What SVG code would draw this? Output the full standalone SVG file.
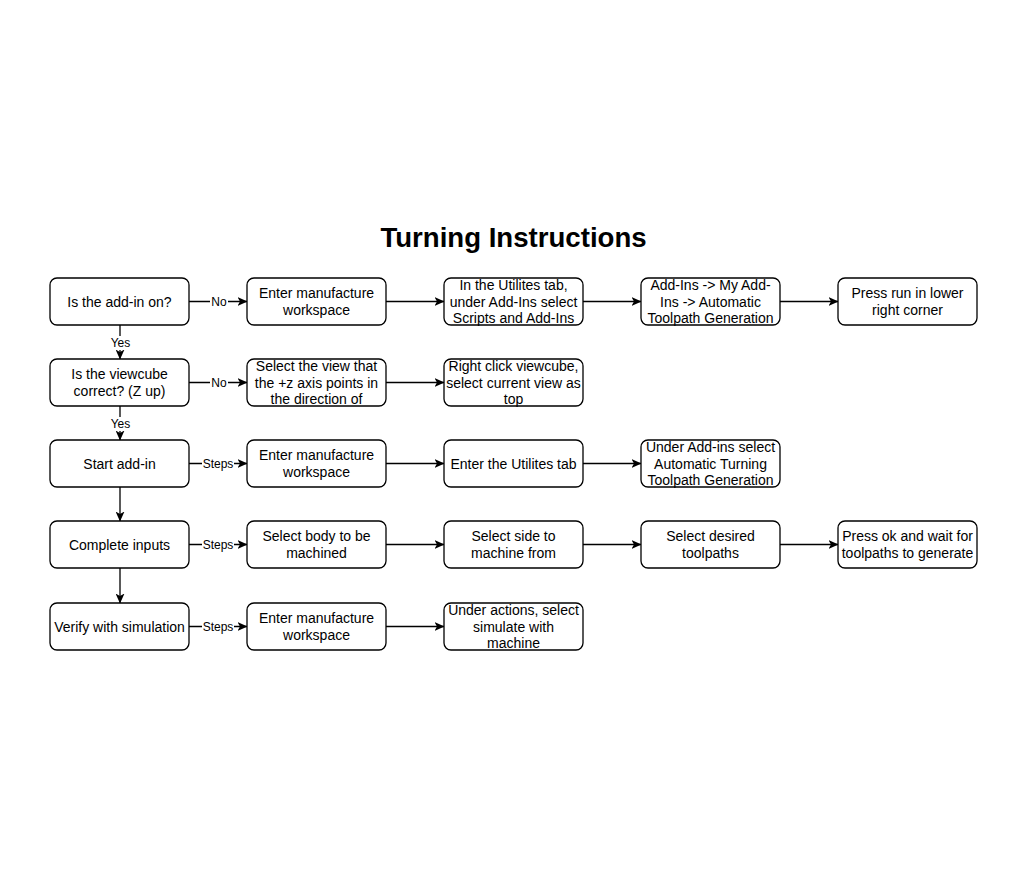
<svg xmlns="http://www.w3.org/2000/svg" width="1024" height="869" viewBox="0 0 1024 869">
<style>
.box{fill:#fff;stroke:#000;stroke-width:1.3}
.t{font-family:"Liberation Sans",Arial,sans-serif;font-size:14px;fill:#000;text-anchor:middle}
.lbl{font-family:"Liberation Sans",Arial,sans-serif;font-size:12px;fill:#000;text-anchor:middle}
.lb{fill:#fff}
.e{stroke:#000;stroke-width:1.3;fill:none;marker-end:url(#arr)}
.title{font-family:"Liberation Sans",Arial,sans-serif;font-size:27.6px;font-weight:bold;fill:#000;text-anchor:middle}
</style>
<defs>
<marker id="arr" viewBox="0 0 10 9" refX="9.5" refY="4.5" markerWidth="10" markerHeight="9" markerUnits="userSpaceOnUse" orient="auto">
<path d="M0,0 L10,4.5 L0,9 L2.5,4.5 Z" fill="#000"/>
</marker>
</defs>
<rect width="1024" height="869" fill="#fff"/>
<text class="title" x="513.5" y="247">Turning Instructions</text>

<g id="connectors">
<line class="e" x1="189" y1="301.5" x2="247" y2="301.5"/>
<line class="e" x1="386" y1="301.5" x2="444" y2="301.5"/>
<line class="e" x1="583" y1="301.5" x2="641" y2="301.5"/>
<line class="e" x1="780" y1="301.5" x2="838" y2="301.5"/>
<line class="e" x1="120" y1="325" x2="120" y2="359"/>
<line class="e" x1="189" y1="382.5" x2="247" y2="382.5"/>
<line class="e" x1="386" y1="382.5" x2="444" y2="382.5"/>
<line class="e" x1="120" y1="406" x2="120" y2="440"/>
<line class="e" x1="189" y1="463.5" x2="247" y2="463.5"/>
<line class="e" x1="386" y1="463.5" x2="444" y2="463.5"/>
<line class="e" x1="583" y1="463.5" x2="641" y2="463.5"/>
<line class="e" x1="120" y1="487" x2="120" y2="521"/>
<line class="e" x1="189" y1="544.5" x2="247" y2="544.5"/>
<line class="e" x1="386" y1="544.5" x2="444" y2="544.5"/>
<line class="e" x1="583" y1="544.5" x2="641" y2="544.5"/>
<line class="e" x1="780" y1="544.5" x2="838" y2="544.5"/>
<line class="e" x1="120" y1="568" x2="120" y2="603"/>
<line class="e" x1="189" y1="626.5" x2="247" y2="626.5"/>
<line class="e" x1="386" y1="626.5" x2="444" y2="626.5"/>
<rect class="lb" x="210" y="295" width="18" height="14"/>
<text class="lbl" x="219" y="306">No</text>
<rect class="lb" x="210" y="376" width="18" height="14"/>
<text class="lbl" x="219" y="387">No</text>
<rect class="lb" x="109" y="336" width="22" height="14"/>
<text class="lbl" x="120.5" y="347">Yes</text>
<rect class="lb" x="109" y="417" width="22" height="14"/>
<text class="lbl" x="120.5" y="428">Yes</text>
<rect class="lb" x="202" y="457" width="32" height="14"/>
<text class="lbl" x="218" y="468">Steps</text>
<rect class="lb" x="202" y="538" width="32" height="14"/>
<text class="lbl" x="218" y="549">Steps</text>
<rect class="lb" x="202" y="620" width="32" height="14"/>
<text class="lbl" x="218" y="631">Steps</text>
</g>

<g id="n1"><rect class="box" x="50" y="278" width="139" height="47" rx="7"/><text class="t" x="119.5" y="306.5">Is the add-in on?</text></g>
<g id="n2"><rect class="box" x="247" y="278" width="139" height="47" rx="7"/><text class="t" x="316.5" y="298">Enter manufacture</text><text class="t" x="316.5" y="315">workspace</text></g>
<g id="n3"><rect class="box" x="444" y="278" width="139" height="47" rx="7"/><text class="t" x="513.5" y="290">In the Utilites tab,</text><text class="t" x="513.5" y="306.5">under Add-Ins select</text><text class="t" x="513.5" y="323">Scripts and Add-Ins</text></g>
<g id="n4"><rect class="box" x="641" y="278" width="139" height="47" rx="7"/><text class="t" x="710.5" y="290">Add-Ins -&gt; My Add-</text><text class="t" x="710.5" y="306.5">Ins -&gt; Automatic</text><text class="t" x="710.5" y="323">Toolpath Generation</text></g>
<g id="n5"><rect class="box" x="838" y="278" width="139" height="47" rx="7"/><text class="t" x="907.5" y="298">Press run in lower</text><text class="t" x="907.5" y="315">right corner</text></g>

<g id="n6"><rect class="box" x="50" y="359" width="139" height="47" rx="7"/><text class="t" x="119.5" y="379">Is the viewcube</text><text class="t" x="119.5" y="396">correct? (Z up)</text></g>
<g id="n7"><rect class="box" x="247" y="359" width="139" height="47" rx="7"/><text class="t" x="316.5" y="371">Select the view that</text><text class="t" x="316.5" y="387.5">the +z axis points in</text><text class="t" x="316.5" y="404">the direction of</text></g>
<g id="n8"><rect class="box" x="444" y="359" width="139" height="47" rx="7"/><text class="t" x="513.5" y="371">Right click viewcube,</text><text class="t" x="513.5" y="387.5">select current view as</text><text class="t" x="513.5" y="404">top</text></g>

<g id="n9"><rect class="box" x="50" y="440" width="139" height="47" rx="7"/><text class="t" x="119.5" y="468.5">Start add-in</text></g>
<g id="n10"><rect class="box" x="247" y="440" width="139" height="47" rx="7"/><text class="t" x="316.5" y="460">Enter manufacture</text><text class="t" x="316.5" y="477">workspace</text></g>
<g id="n11"><rect class="box" x="444" y="440" width="139" height="47" rx="7"/><text class="t" x="513.5" y="468.5">Enter the Utilites tab</text></g>
<g id="n12"><rect class="box" x="641" y="440" width="139" height="47" rx="7"/><text class="t" x="710.5" y="452">Under Add-ins select</text><text class="t" x="710.5" y="468.5">Automatic Turning</text><text class="t" x="710.5" y="485">Toolpath Generation</text></g>

<g id="n13"><rect class="box" x="50" y="521" width="139" height="47" rx="7"/><text class="t" x="119.5" y="549.5">Complete inputs</text></g>
<g id="n14"><rect class="box" x="247" y="521" width="139" height="47" rx="7"/><text class="t" x="316.5" y="541">Select body to be</text><text class="t" x="316.5" y="558">machined</text></g>
<g id="n15"><rect class="box" x="444" y="521" width="139" height="47" rx="7"/><text class="t" x="513.5" y="541">Select side to</text><text class="t" x="513.5" y="558">machine from</text></g>
<g id="n16"><rect class="box" x="641" y="521" width="139" height="47" rx="7"/><text class="t" x="710.5" y="541">Select desired</text><text class="t" x="710.5" y="558">toolpaths</text></g>
<g id="n17"><rect class="box" x="838" y="521" width="139" height="47" rx="7"/><text class="t" x="907.5" y="541">Press ok and wait for</text><text class="t" x="907.5" y="558">toolpaths to generate</text></g>

<g id="n18"><rect class="box" x="50" y="603" width="139" height="47" rx="7"/><text class="t" x="119.5" y="631.5">Verify with simulation</text></g>
<g id="n19"><rect class="box" x="247" y="603" width="139" height="47" rx="7"/><text class="t" x="316.5" y="623">Enter manufacture</text><text class="t" x="316.5" y="640">workspace</text></g>
<g id="n20"><rect class="box" x="444" y="603" width="139" height="47" rx="7"/><text class="t" x="513.5" y="615">Under actions, select</text><text class="t" x="513.5" y="631.5">simulate with</text><text class="t" x="513.5" y="648">machine</text></g>
</svg>
